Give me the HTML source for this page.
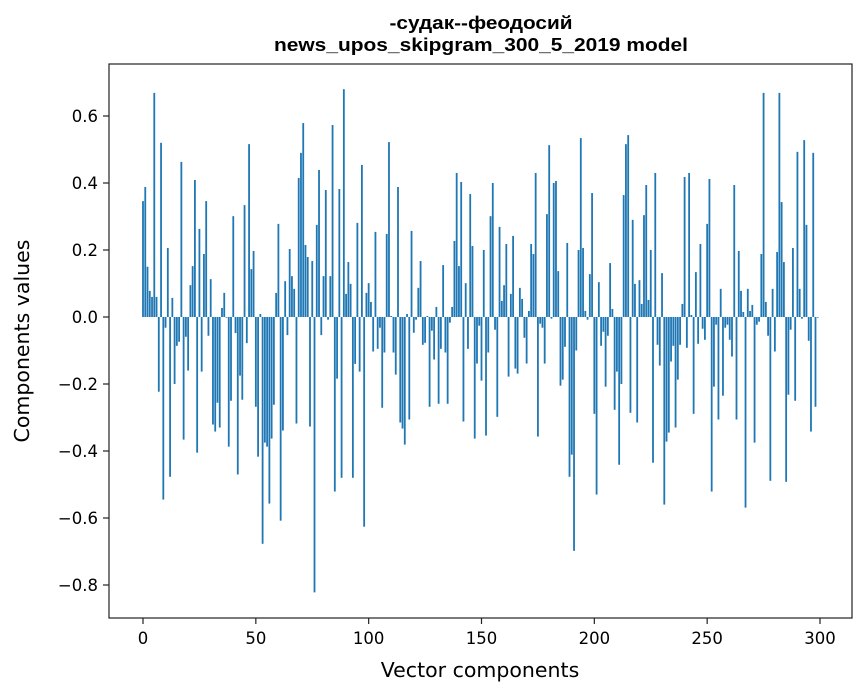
<!DOCTYPE html>
<html><head><meta charset="utf-8"><style>
body{margin:0;background:#fff;}
svg{display:block;font-family:"DejaVu Sans","Liberation Sans",sans-serif;}
</style></head><body>
<svg id="chart" width="867" height="696" viewBox="0 0 867 696" xmlns="http://www.w3.org/2000/svg">
<rect x="0" y="0" width="867" height="696" fill="#fff"/>
<text x="481" y="29" text-anchor="middle" font-size="18" font-weight="bold" style="font-family:'Liberation Sans',sans-serif" textLength="183" lengthAdjust="spacingAndGlyphs">-судак--феодосий</text>
<text x="481" y="51" text-anchor="middle" font-size="18" font-weight="bold" style="font-family:'Liberation Sans',sans-serif" textLength="414" lengthAdjust="spacingAndGlyphs">news_upos_skipgram_300_5_2019 model</text>
<g id="bars"></g>
<rect x="109" y="64" width="743" height="554" fill="none" stroke="#222" stroke-width="1.2"/>
<g id="xticks"></g>
<g id="yticks"></g>
<text x="480" y="677" text-anchor="middle" font-size="20.5">Vector components</text>
<text transform="translate(29,341) rotate(-90)" text-anchor="middle" font-size="20.5">Components values</text>
</svg>
<script>
const values = [
0.346,0.388,0.15,0.078,0.06,0.669,0.06,-0.223,0.52,-0.545,
-0.032,0.206,-0.477,0.057,-0.2,-0.086,-0.074,0.463,-0.366,-0.059,
-0.16,0.095,0.152,0.409,-0.405,0.263,-0.163,0.188,0.346,-0.056,
0.113,-0.321,-0.342,-0.256,-0.33,0.027,0.072,-0.002,-0.387,-0.25,
0.301,-0.048,-0.47,-0.175,-0.247,0.334,-0.078,0.516,0.143,0.197,
-0.268,-0.417,0.009,-0.677,-0.375,-0.387,-0.557,-0.363,-0.262,0.072,
0.278,-0.608,-0.339,0.107,-0.054,0.203,0.122,0.084,-0.318,0.415,
0.49,0.579,0.215,0.179,-0.327,0.167,-0.822,0.275,0.439,-0.054,
0.122,0.379,-0.008,0.122,0.573,-0.521,-0.184,0.382,-0.48,0.68,
0.069,0.164,0.099,-0.48,-0.14,0.281,-0.163,0.454,-0.626,0.072,
0.101,0.045,-0.103,0.254,-0.095,-0.032,-0.271,-0.106,0.248,0.522,
0.003,-0.106,-0.172,0.388,-0.315,-0.333,-0.381,0.009,-0.306,0.257,
-0.047,-0.008,0.087,0.167,-0.083,-0.077,0.003,-0.268,-0.041,-0.127,
0.03,-0.259,-0.095,0.155,-0.106,-0.259,-0.017,0.03,0.227,0.43,
0.152,0.403,-0.312,0.101,-0.095,0.367,0.212,-0.363,-0.139,-0.026,
-0.19,0.2,-0.354,-0.106,0.301,0.4,-0.038,-0.298,0.269,0.048,
0.095,0.218,-0.178,0.069,0.242,-0.154,-0.169,0.087,0.054,-0.062,
-0.139,0.018,0.218,0.188,0.43,-0.357,-0.02,-0.032,-0.139,0.307,
0.513,-0.005,0.4,0.406,0.137,-0.205,-0.187,-0.089,0.221,-0.477,
-0.411,-0.698,-0.1,0.2,0.534,0.206,0.018,-0.008,0.128,0.37,
-0.289,-0.53,0.104,-0.086,-0.044,-0.208,-0.056,0.161,0.024,-0.277,
-0.163,-0.441,-0.2,0.364,0.516,0.543,-0.286,0.29,0.099,-0.315,
0.11,0.039,0.304,0.394,0.051,0.2,-0.435,0.43,-0.083,-0.145,
0.131,-0.56,-0.372,-0.345,-0.133,-0.086,-0.33,-0.187,-0.083,0.039,
0.418,-0.092,0.43,0.006,-0.289,0.134,-0.08,0.218,-0.035,-0.068,
0.278,0.412,-0.521,-0.208,-0.023,-0.306,0.084,-0.235,-0.032,-0.023,
-0.068,-0.118,0.394,-0.306,0.197,0.078,0.015,-0.569,0.084,0.018,
0.036,-0.375,-0.023,-0.014,0.188,0.669,0.045,-0.056,-0.489,0.084,
-0.103,0.194,0.669,0.343,0.164,-0.492,-0.232,-0.038,0.206,-0.25,
0.493,0.084,-0.005,0.528,0.275,-0.071,-0.342,0.49,-0.268,-0.002
];
const xTicks = [0,50,100,150,200,250,300];
const yTicks = [-0.8,-0.6,-0.4,-0.2,0.0,0.2,0.4,0.6];
const yTickLabels = ["−0.8","−0.6","−0.4","−0.2","0.0","0.2","0.4","0.6"];

const NS="http://www.w3.org/2000/svg";
function xs(v){return 143+v*(677/300);}
function ys(v){return 317-v*335;}
const bars=document.getElementById('bars');
values.forEach((v,i)=>{
  const r=document.createElementNS(NS,'rect');
  const y0=ys(0), y1=ys(v);
  r.setAttribute('x',xs(i-0.4));
  r.setAttribute('width',0.8*677/300);
  r.setAttribute('y',Math.min(y0,y1));
  r.setAttribute('height',Math.abs(y1-y0));
  r.setAttribute('fill','#1f77b4');
  
  
  bars.appendChild(r);
});
const xg=document.getElementById('xticks');
xTicks.forEach(t=>{
  const l=document.createElementNS(NS,'line');
  l.setAttribute('x1',xs(t));l.setAttribute('x2',xs(t));
  l.setAttribute('y1',618);l.setAttribute('y2',624);
  l.setAttribute('stroke','#222');l.setAttribute('stroke-width','1.2');
  
  
  xg.appendChild(l);
  const tx=document.createElementNS(NS,'text');
  tx.setAttribute('x',xs(t));tx.setAttribute('y',644);
  tx.setAttribute('text-anchor','middle');tx.setAttribute('font-size','16.5');
  tx.textContent=t;
  
  
  xg.appendChild(tx);
});
const yg=document.getElementById('yticks');
yTicks.forEach((t,k)=>{
  const l=document.createElementNS(NS,'line');
  l.setAttribute('x1',103);l.setAttribute('x2',109);
  l.setAttribute('y1',ys(t));l.setAttribute('y2',ys(t));
  l.setAttribute('stroke','#222');l.setAttribute('stroke-width','1.2');
  
  
  yg.appendChild(l);
  const tx=document.createElementNS(NS,'text');
  tx.setAttribute('x',98);tx.setAttribute('y',ys(t)+6);
  tx.setAttribute('text-anchor','end');tx.setAttribute('font-size','16.5');
  tx.textContent=yTickLabels[k];
  
  
  yg.appendChild(tx);
});
</script>
</body></html>
